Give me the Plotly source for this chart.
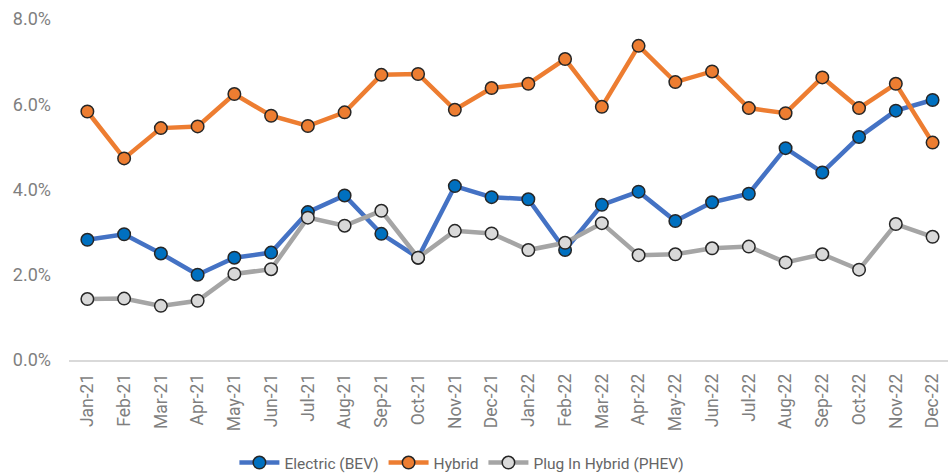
import plotly.graph_objects as go

months = ["Jan-21", "Feb-21", "Mar-21", "Apr-21", "May-21", "Jun-21", "Jul-21", "Aug-21",
          "Sep-21", "Oct-21", "Nov-21", "Dec-21", "Jan-22", "Feb-22", "Mar-22", "Apr-22",
          "May-22", "Jun-22", "Jul-22", "Aug-22", "Sep-22", "Oct-22", "Nov-22", "Dec-22"]

electric = [2.82, 2.95, 2.50, 2.00, 2.40, 2.52, 3.47, 3.86,
            2.96, 2.40, 4.08, 3.82, 3.77, 2.58, 3.64, 3.95,
            3.26, 3.70, 3.90, 4.97, 4.40, 5.23, 5.85, 6.10]

hybrid = [5.83, 4.73, 5.44, 5.48, 6.24, 5.73, 5.49, 5.81,
          6.69, 6.71, 5.87, 6.38, 6.48, 7.06, 5.94, 7.37,
          6.52, 6.77, 5.91, 5.79, 6.63, 5.91, 6.48, 5.10]

phev = [1.43, 1.44, 1.27, 1.39, 2.02, 2.13, 3.34, 3.15,
        3.50, 2.40, 3.03, 2.97, 2.58, 2.75, 3.21, 2.46,
        2.48, 2.62, 2.66, 2.29, 2.48, 2.12, 3.19, 2.89]

y_ticks = [0, 2, 4, 6, 8]

series = [
    ("Electric (BEV)", [v / 100 for v in electric], "#4472C4", "#0070C0"),
    ("Hybrid", [v / 100 for v in hybrid], "#ED7D31", "#ED7D31"),
    ("Plug In Hybrid (PHEV)", [v / 100 for v in phev], "#A5A5A5", "#D9D9D9"),
]

fig = go.Figure()
for name, vals, lc, mc in series:
    fig.add_trace(go.Scatter(
        x=months, y=vals, name=name, mode="lines+markers",
        line=dict(color=lc, width=4.5),
        marker=dict(size=12.5, color=mc, line=dict(color="#262626", width=1.5)),
    ))

font_family = "Roboto, 'Liberation Sans', Arial, sans-serif"

fig.update_layout(
    width=948, height=476,
    paper_bgcolor="white", plot_bgcolor="white",
    margin=dict(l=69, r=0, t=19, b=116, autoexpand=False),
    font=dict(family=font_family, color="#7F7F7F", size=15),
    legend=dict(orientation="h", x=0.447, xanchor="center", y=-0.302, yanchor="middle",
                font=dict(size=15.5, color="#666666"),
                traceorder="normal", tracegroupgap=0, itemwidth=40),
    showlegend=True,
)
fig.update_xaxes(
    type="category", range=[-0.5, 23.42],
    showline=True, linecolor="#D9D9D9", linewidth=1.5,
    showgrid=False, zeroline=False, ticks="",
    tickangle=-90, tickfont=dict(size=17.5, color="#7F7F7F"),
    ticklabelstandoff=5,
)
fig.update_yaxes(
    range=[0, 0.08], tickvals=[t / 100 for t in y_ticks], tickformat=".1%",
    showgrid=False, zeroline=False, showline=False, ticks="",
    tickfont=dict(size=18, color="#7F7F7F"),
    ticklabelstandoff=17,
)

fig.write_html("out.html", config={"displayModeBar": False},
               post_script="document.body.style.margin='0px';")
